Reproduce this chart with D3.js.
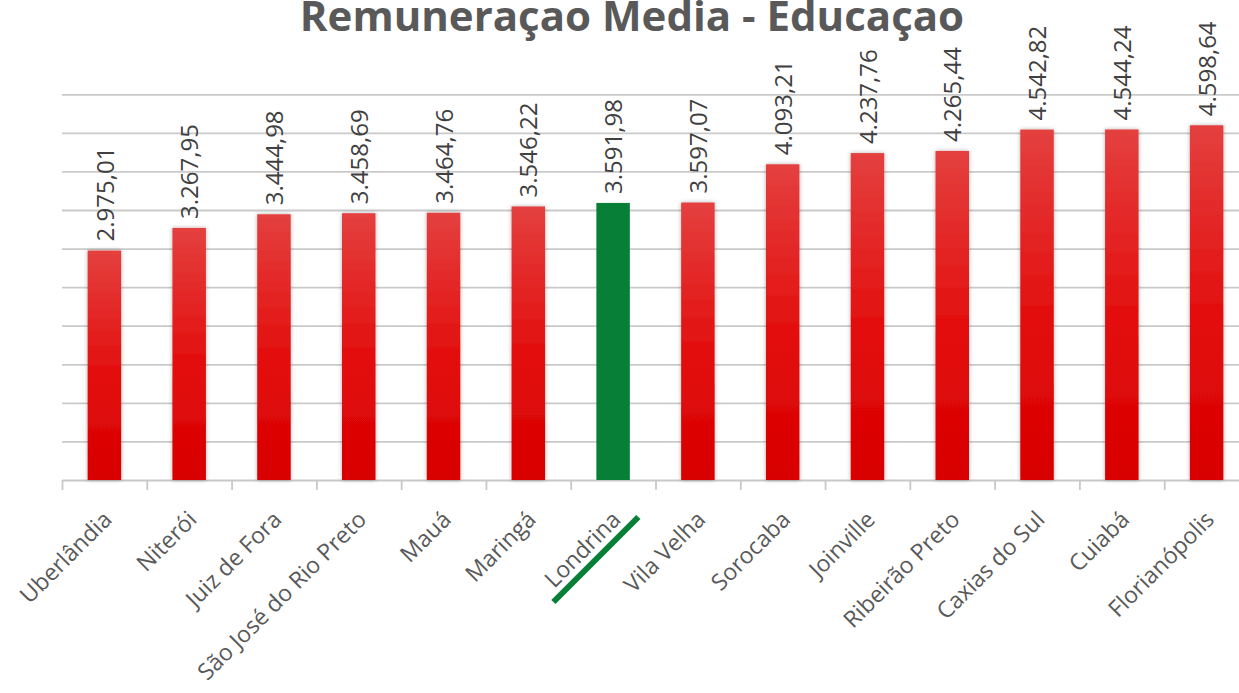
<!DOCTYPE html>
<html>
<head>
<meta charset="utf-8">
<script src="https://cdn.jsdelivr.net/npm/d3@7"></script>
<style>
  body { margin: 0; background: #fff; overflow: hidden; }
  text { font-family: "Open Sans", "DejaVu Sans", sans-serif; }
</style>
</head>
<body>
<svg id="chart" width="1239" height="693"></svg>
<script>
// chart data
var title = "Remuneraçao Media - Educaçao";
var cities = ["Uberlândia", "Niterói", "Juiz de Fora", "São José do Rio Preto", "Mauá", "Maringá",
              "Londrina", "Vila Velha", "Sorocaba", "Joinville", "Ribeirão Preto", "Caxias do Sul",
              "Cuiabá", "Florianópolis"];
var values = [2975.01, 3267.95, 3444.98, 3458.69, 3464.76, 3546.22,
              3591.98, 3597.07, 4093.21, 4237.76, 4265.44, 4542.82,
              4544.24, 4598.64];
var highlight = "Londrina";
var yTicks = [500, 1000, 1500, 2000, 2500, 3000, 3500, 4000, 4500, 5000];

var data = cities.map(function(c, i) { return {city: c, value: values[i]}; });

// plot area
var plotLeft = 62, plotRight = 1249, plotBase = 480, plotTop = 94.3;

var svg = d3.select("#chart");

var ptBR = d3.formatLocale({decimal: ",", thousands: ".", grouping: [3], currency: ["R$ ", ""]});
var fmt = ptBR.format(",.2f");

var x = d3.scaleBand().domain(cities).range([plotLeft, plotRight]).paddingInner(0.605).paddingOuter(0.3025);
var y = d3.scaleLinear().domain([0, 5000]).range([plotBase, plotTop]);

var defs = svg.append("defs");
var grad = defs.append("linearGradient")
    .attr("id", "redGrad")
    .attr("x1", 0).attr("y1", 0).attr("x2", 0).attr("y2", 1);
grad.append("stop").attr("offset", "0%").attr("stop-color", "#e4403f");
grad.append("stop").attr("offset", "55%").attr("stop-color", "#e30d0d");
grad.append("stop").attr("offset", "100%").attr("stop-color", "#d80000");

var shadow = defs.append("filter").attr("id", "shadow")
    .attr("x", "-40%").attr("y", "-10%").attr("width", "180%").attr("height", "120%");
shadow.append("feDropShadow")
    .attr("dx", 0).attr("dy", 0).attr("stdDeviation", 2.2)
    .attr("flood-color", "#000").attr("flood-opacity", 0.3);

// title
svg.append("text")
    .attr("x", 632)
    .attr("y", 31)
    .attr("text-anchor", "middle")
    .style("font-size", "42px")
    .style("font-weight", "bold")
    .style("fill", "#595959")
    .text(title);

// gridlines
var grid = svg.append("g")
    .attr("transform", "translate(" + plotLeft + ",0)")
    .call(d3.axisLeft(y).tickValues(yTicks).tickSize(-(1239 - plotLeft)).tickFormat(""));
grid.select(".domain").remove();
grid.selectAll("line").attr("stroke", "#cacaca").attr("stroke-width", 1.8);

// category axis: baseline and ticks between categories
var xb = d3.scaleLinear().domain([0, cities.length]).range([plotLeft, plotRight]);
var axis = svg.append("g")
    .attr("transform", "translate(0," + plotBase + ")")
    .call(d3.axisBottom(xb).tickValues(d3.range(0, cities.length + 1)).tickSize(10).tickSizeOuter(0).tickFormat(""));
axis.select(".domain").attr("stroke", "#c8c8c8").attr("stroke-width", 1.8);
axis.selectAll("line").attr("stroke", "#c8c8c8").attr("stroke-width", 1.8);

// bars
svg.selectAll(".bar")
    .data(data)
  .enter().append("rect")
    .attr("class", "bar")
    .attr("x", function(d) { return x(d.city); })
    .attr("width", x.bandwidth())
    .attr("y", function(d) { return y(d.value); })
    .attr("height", function(d) { return plotBase - y(d.value); })
    .attr("fill", function(d) { return d.city === highlight ? "#087f37" : "url(#redGrad)"; })
    .attr("filter", function(d) { return d.city === highlight ? null : "url(#shadow)"; });

// value labels
svg.selectAll(".val")
    .data(data)
  .enter().append("text")
    .attr("class", "val")
    .attr("transform", function(d) {
      return "translate(" + (x(d.city) + x.bandwidth() / 2) + "," + (y(d.value) - 9) + ") rotate(-90)";
    })
    .attr("dy", "0.38em")
    .style("font-size", "24px")
    .style("fill", "#404040")
    .text(function(d) { return fmt(d.value); });

// category labels
svg.selectAll(".cat")
    .data(cities)
  .enter().append("text")
    .attr("class", "cat")
    .attr("transform", function(d) {
      return "translate(" + (x(d) + x.bandwidth() / 2 + 9) + ",521) rotate(-45)";
    })
    .attr("text-anchor", "end")
    .style("font-size", "23px")
    .style("fill", "#595959")
    .text(function(d) { return d; });

// green underline marking the highlighted city
svg.append("line")
    .attr("x1", x(highlight) - 43)
    .attr("y1", 602)
    .attr("x2", x(highlight) + 42)
    .attr("y2", 517)
    .attr("stroke", "#087f37")
    .attr("stroke-width", 6);
</script>
</body>
</html>
